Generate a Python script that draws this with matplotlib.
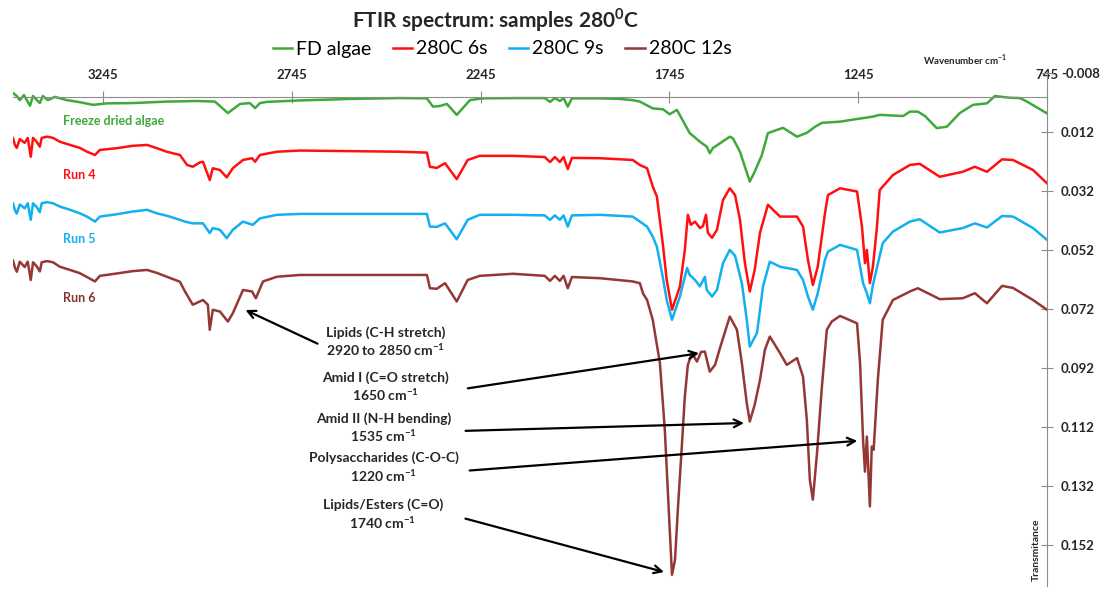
import matplotlib
matplotlib.use("Agg")
import matplotlib.pyplot as plt

plt.rcParams['font.family'] = ['Lato', 'DejaVu Sans']
plt.rcParams['mathtext.fontset'] = 'custom'
plt.rcParams['mathtext.rm'] = 'Lato'
plt.rcParams['mathtext.bf'] = 'Lato:bold'

# FD algae (green)
fd_wn = [3483, 3473, 3465, 3454, 3438, 3430, 3412, 3404, 3391, 3372,
         3340, 3306, 3271, 3234, 3166, 3076, 2996, 2948, 2914, 2882,
         2856, 2842, 2829, 2811, 2723, 2591, 2459, 2387, 2371, 2353,
         2334, 2308, 2273, 2239, 2141, 2075, 2061, 2048, 2035, 2025,
         2014, 2003, 1929, 1876, 1842, 1823, 1789, 1762, 1744, 1725,
         1691, 1664, 1646, 1638, 1630, 1585, 1577, 1558, 1545, 1532,
         1519, 1500, 1484, 1460, 1444, 1407, 1381, 1360, 1341, 1293,
         1248, 1206, 1188, 1126, 1108, 1087, 1068, 1037, 1010, 976,
         941, 904, 883, 864, 843, 817, 798, 745]
fd_t = [-0.0012, -0.0002, 0.0012, -0.0005, 0.0031, -0.0002, 0.0022, -0.0002, 0.0012, 0.0001,
        0.0012, 0.0019, 0.0028, 0.0023, 0.0022, 0.0017, 0.0015, 0.0017, 0.0056, 0.0025,
        0.0022, 0.0039, 0.0022, 0.0018, 0.0013, 0.0008, 0.0005, 0.0006, 0.0034, 0.0032,
        0.0025, 0.0062, 0.0012, 0.0006, 0.0005, 0.0005, 0.0018, 0.0005, 0.0015, 0.0005,
        0.0034, 0.0006, 0.0006, 0.0008, 0.0012, 0.0017, 0.0040, 0.0043, 0.0060, 0.0045,
        0.0124, 0.0153, 0.0170, 0.0192, 0.0175, 0.0136, 0.0141, 0.0187, 0.0238, 0.0288,
        0.0255, 0.0198, 0.0124, 0.0113, 0.0106, 0.0136, 0.0123, 0.0103, 0.0089, 0.0085,
        0.0076, 0.0068, 0.0062, 0.0066, 0.0051, 0.0051, 0.0066, 0.0107, 0.0102, 0.0056,
        0.0028, 0.0023, -0.0002, 0.0001, 0.0004, 0.0005, 0.0017, 0.0057]

# 280C 6s (red, Run 4)
r4_wn = [3483, 3478, 3473, 3465, 3452, 3444, 3436, 3430, 3420, 3412,
         3407, 3393, 3377, 3359, 3332, 3306, 3287, 3266, 3253, 3208,
         3166, 3128, 3102, 3076, 3041, 3022, 3007, 2988, 2980, 2962,
         2954, 2935, 2917, 2901, 2874, 2850, 2842, 2829, 2784, 2723,
         2459, 2387, 2379, 2361, 2339, 2308, 2279, 2247, 2159, 2075,
         2061, 2048, 2035, 2025, 2014, 2003, 1929, 1842, 1823, 1804,
         1789, 1778, 1762, 1752, 1738, 1717, 1704, 1696, 1688, 1677,
         1664, 1656, 1648, 1643, 1632, 1619, 1603, 1585, 1571, 1558,
         1545, 1532, 1519, 1505, 1484, 1452, 1407, 1391, 1378, 1365,
         1352, 1333, 1325, 1293, 1248, 1235, 1227, 1222, 1214, 1206,
         1196, 1188, 1153, 1108, 1082, 1029, 968, 936, 904, 864,
         835, 782, 745]
r4_t = [0.0141, 0.0164, 0.0174, 0.0144, 0.0157, 0.0140, 0.0204, 0.0140, 0.0154, 0.0170,
        0.0140, 0.0136, 0.0140, 0.0153, 0.0164, 0.0174, 0.0187, 0.0198, 0.0181, 0.0175,
        0.0167, 0.0164, 0.0175, 0.0187, 0.0198, 0.0232, 0.0238, 0.0223, 0.0221, 0.0283,
        0.0243, 0.0249, 0.0274, 0.0243, 0.0215, 0.0209, 0.0221, 0.0198, 0.0187, 0.0183,
        0.0187, 0.0190, 0.0238, 0.0242, 0.0226, 0.0280, 0.0215, 0.0201, 0.0201, 0.0205,
        0.0222, 0.0205, 0.0222, 0.0205, 0.0246, 0.0208, 0.0209, 0.0215, 0.0232, 0.0243,
        0.0305, 0.0339, 0.0503, 0.0622, 0.0723, 0.0644, 0.0520, 0.0401, 0.0435, 0.0424,
        0.0446, 0.0439, 0.0401, 0.0462, 0.0479, 0.0452, 0.0351, 0.0311, 0.0334, 0.0418,
        0.0564, 0.0661, 0.0588, 0.0462, 0.0367, 0.0407, 0.0407, 0.0441, 0.0554, 0.0639,
        0.0577, 0.0396, 0.0334, 0.0311, 0.0322, 0.0441, 0.0565, 0.0520, 0.0633, 0.0577,
        0.0452, 0.0317, 0.0266, 0.0232, 0.0228, 0.0272, 0.0255, 0.0238, 0.0255, 0.0213,
        0.0215, 0.0249, 0.0294]

# 280C 9s (blue, Run 5)
r5_wn = [3483, 3478, 3473, 3465, 3452, 3444, 3436, 3430, 3420, 3412,
         3407, 3393, 3377, 3359, 3332, 3306, 3287, 3266, 3253, 3208,
         3166, 3128, 3102, 3076, 3041, 3028, 3007, 2980, 2962, 2954,
         2935, 2917, 2901, 2874, 2848, 2829, 2784, 2723, 2459, 2387,
         2379, 2361, 2339, 2308, 2279, 2247, 2159, 2075, 2061, 2048,
         2035, 2025, 2014, 2003, 1929, 1842, 1823, 1804, 1789, 1778,
         1762, 1752, 1738, 1717, 1698, 1691, 1677, 1664, 1651, 1646,
         1632, 1619, 1603, 1585, 1571, 1553, 1540, 1532, 1513, 1497,
         1479, 1452, 1407, 1391, 1378, 1365, 1352, 1333, 1325, 1293,
         1248, 1232, 1222, 1214, 1206, 1180, 1153, 1108, 1082, 1029,
         968, 936, 904, 864, 835, 782, 745]
r5_t = [0.0362, 0.0385, 0.0397, 0.0366, 0.0379, 0.0362, 0.0418, 0.0362, 0.0375, 0.0392,
        0.0362, 0.0358, 0.0362, 0.0373, 0.0384, 0.0396, 0.0407, 0.0424, 0.0407, 0.0399,
        0.0390, 0.0384, 0.0396, 0.0404, 0.0418, 0.0424, 0.0430, 0.0430, 0.0463, 0.0446,
        0.0452, 0.0480, 0.0452, 0.0424, 0.0435, 0.0413, 0.0401, 0.0398, 0.0398, 0.0398,
        0.0441, 0.0442, 0.0430, 0.0484, 0.0418, 0.0401, 0.0401, 0.0403, 0.0418, 0.0403,
        0.0418, 0.0403, 0.0441, 0.0403, 0.0401, 0.0407, 0.0424, 0.0441, 0.0475, 0.0509,
        0.0615, 0.0690, 0.0757, 0.0678, 0.0581, 0.0605, 0.0622, 0.0644, 0.0611, 0.0656,
        0.0678, 0.0656, 0.0565, 0.0520, 0.0540, 0.0633, 0.0757, 0.0848, 0.0802, 0.0644,
        0.0560, 0.0577, 0.0588, 0.0622, 0.0678, 0.0723, 0.0667, 0.0554, 0.0526, 0.0503,
        0.0520, 0.0633, 0.0667, 0.0701, 0.0639, 0.0497, 0.0458, 0.0424, 0.0416, 0.0461,
        0.0446, 0.0430, 0.0444, 0.0405, 0.0407, 0.0446, 0.0486]

# 280C 12s (brown, Run 6)
r6_wn = [3483, 3478, 3473, 3465, 3452, 3444, 3436, 3430, 3420, 3412,
         3407, 3393, 3377, 3359, 3332, 3306, 3287, 3266, 3253, 3208,
         3166, 3128, 3102, 3076, 3041, 3028, 3007, 2980, 2967, 2962,
         2954, 2935, 2914, 2901, 2874, 2850, 2840, 2821, 2784, 2723,
         2459, 2387, 2379, 2361, 2339, 2308, 2279, 2247, 2159, 2075,
         2061, 2048, 2035, 2025, 2014, 2003, 1929, 1842, 1823, 1815,
         1804, 1789, 1770, 1757, 1744, 1738, 1730, 1722, 1712, 1704,
         1696, 1685, 1672, 1661, 1651, 1638, 1624, 1611, 1585, 1566,
         1553, 1540, 1532, 1519, 1505, 1492, 1479, 1452, 1434, 1407,
         1391, 1381, 1373, 1365, 1354, 1341, 1328, 1315, 1293, 1248,
         1240, 1232, 1227, 1222, 1214, 1209, 1204, 1193, 1180, 1153,
         1108, 1087, 1029, 968, 936, 904, 864, 835, 782, 745]
r6_t = [0.0556, 0.0580, 0.0594, 0.0560, 0.0578, 0.0560, 0.0622, 0.0562, 0.0576, 0.0593,
        0.0562, 0.0558, 0.0562, 0.0577, 0.0588, 0.0599, 0.0612, 0.0627, 0.0608, 0.0600,
        0.0592, 0.0588, 0.0598, 0.0611, 0.0628, 0.0660, 0.0706, 0.0690, 0.0706, 0.0791,
        0.0723, 0.0729, 0.0763, 0.0735, 0.0656, 0.0661, 0.0684, 0.0627, 0.0611, 0.0605,
        0.0605, 0.0605, 0.0650, 0.0652, 0.0633, 0.0695, 0.0622, 0.0608, 0.0601, 0.0608,
        0.0625, 0.0608, 0.0625, 0.0608, 0.0650, 0.0612, 0.0616, 0.0627, 0.0633, 0.0667,
        0.0690, 0.0757, 0.0904, 0.1130, 0.1469, 0.1622, 0.1571, 0.1390, 0.1187, 0.1017,
        0.0910, 0.0870, 0.0899, 0.0866, 0.0865, 0.0933, 0.0910, 0.0853, 0.0746, 0.0791,
        0.0904, 0.1040, 0.1102, 0.1045, 0.0961, 0.0859, 0.0814, 0.0870, 0.0910, 0.0887,
        0.0950, 0.1096, 0.1300, 0.1367, 0.1209, 0.0983, 0.0791, 0.0763, 0.0744, 0.0769,
        0.0904, 0.1165, 0.1272, 0.1153, 0.1390, 0.1187, 0.1198, 0.0961, 0.0757, 0.0690,
        0.0661, 0.0650, 0.0687, 0.0684, 0.0667, 0.0701, 0.0642, 0.0649, 0.0690, 0.0723]

x_ticks = [3245, 2745, 2245, 1745, 1245, 745]
y_ticks = [-0.008, 0.012, 0.032, 0.052, 0.072, 0.092, 0.112, 0.132, 0.152]

green, red, blue, brown = '#3fa93a', '#ff1010', '#12b0ee', '#953735'
axis_grey = '#8c8c8c'
dark = '#262626'

fig = plt.figure(figsize=(11.04, 5.90), dpi=100)
ax = fig.add_axes([13 / 1104, 1 - 586 / 590, (1047 - 13) / 1104, (586 - 73) / 590])

ax.plot(fd_wn, fd_t, color=green, lw=1.8, label='FD algae')
ax.plot(r4_wn, r4_t, color=red, lw=1.8, label='280C 6s')
ax.plot(r5_wn, r5_t, color=blue, lw=1.8, label='280C 9s')
ax.plot(r6_wn, r6_t, color=brown, lw=1.8, label='280C 12s')

ax.set_xlim(3483, 745)
ax.set_ylim(0.166, -0.008)

# Excel-like axes: x axis crossing at 0 with labels on top, y axis on the right
ax.spines['left'].set_visible(False)
ax.spines['bottom'].set_visible(False)
ax.spines['top'].set_position(('data', 0))
ax.spines['top'].set_color(axis_grey)
ax.spines['right'].set_color(axis_grey)
ax.xaxis.tick_top()
ax.yaxis.tick_right()
ax.set_xticks(x_ticks)
ax.set_xticklabels([str(v) for v in x_ticks])
ax.set_yticks(y_ticks)
ax.set_yticklabels(['%.3f' % v for v in y_ticks])
ax.tick_params(axis='x', direction='inout', length=8, color=axis_grey, pad=7,
               labelsize=9.5, labelcolor=dark)
ax.tick_params(axis='y', direction='inout', length=8, color=axis_grey, pad=6,
               labelsize=9.5, labelcolor=dark)
for lbl in ax.get_xticklabels() + ax.get_yticklabels():
    lbl.set_fontweight('bold')

# series labels
ax.text(3351, 0.0083, 'Freeze dried algae', color=green, fontsize=9, fontweight='bold', va='center')
ax.text(3351, 0.0266, 'Run 4', color=red, fontsize=9, fontweight='bold', va='center')
ax.text(3351, 0.0483, 'Run 5', color=blue, fontsize=9, fontweight='bold', va='center')
ax.text(3351, 0.0683, 'Run 6', color='#843232', fontsize=9, fontweight='bold', va='center')

# peak annotations: text, text centre, arrow tail, arrow head
notes = [
    ('Lipids (C-H stretch)\n2920 to 2850 cm$^{\\mathbf{-1}}$', (2496, 0.0833), (2670, 0.0842), (2874, 0.0720)),
    ('Amid I (C=O stretch)\n1650 cm$^{\\mathbf{-1}}$', (2496, 0.0986), (2286, 0.0991), (1659, 0.0869)),
    ('Amid II (N-H bending)\n1535 cm$^{\\mathbf{-1}}$', (2501, 0.1125), (2292, 0.1134), (1540, 0.1107)),
    ('Polysaccharides (C-O-C)\n1220 cm$^{\\mathbf{-1}}$', (2501, 0.1259), (2281, 0.1269), (1240, 0.1167)),
    ('Lipids/Esters (C=O)\n1740 cm$^{\\mathbf{-1}}$', (2504, 0.1418), (2292, 0.1429), (1752, 0.1615)),
]
for txt, pos, tail, head in notes:
    ax.text(pos[0], pos[1], txt, ha='center', va='center', fontsize=10,
            fontweight='bold', color=dark, linespacing=1.2)
    ax.annotate('', xy=head, xytext=tail,
                arrowprops=dict(arrowstyle='->', color='black', lw=1.6, mutation_scale=14))

fig.text(496 / 1104, 1 - 20 / 590, 'FTIR spectrum: samples 280$^{\\mathbf{0}}$C',
         ha='center', va='center', fontsize=15, fontweight='bold', color=dark)
fig.legend(loc='center', bbox_to_anchor=(502 / 1104, 1 - 49 / 590), ncol=4, frameon=False,
           fontsize=14, handlelength=1.0, handletextpad=0.2, columnspacing=1.1)

fig.text(965 / 1104, 1 - 60 / 590, 'Wavenumber cm$^{\\mathbf{-1}}$', ha='center', va='center',
         fontsize=7, fontweight='bold', color=dark)
fig.text(1036 / 1104, 1 - 550 / 590, 'Transmitance', ha='center', va='center', rotation=90,
         fontsize=7.5, fontweight='bold', color=dark)

fig.savefig('out.png', dpi=100)
